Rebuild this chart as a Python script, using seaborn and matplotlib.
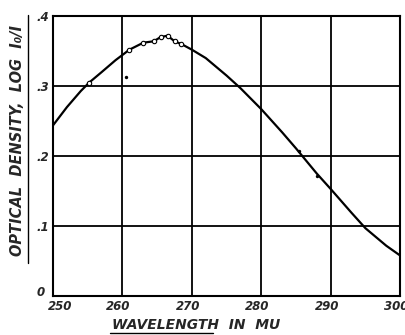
import matplotlib
matplotlib.use("Agg")
import matplotlib.pyplot as plt
import matplotlib.transforms as mtransforms
import seaborn as sns
import pandas as pd
from matplotlib.lines import Line2D

sns.set_style("white")
plt.rcParams['font.family'] = ['DejaVu Sans']

# curve
curve_x = [250, 252, 254, 255.2, 257, 259, 261, 263, 264.5, 265.5, 266.5, 267.5,
           268.5, 270, 272, 275, 277, 280, 283, 285, 288, 290, 293, 295, 298, 300]
curve_y = [0.244, 0.270, 0.293, 0.305, 0.320, 0.337, 0.352, 0.362, 0.364, 0.370,
           0.372, 0.364, 0.360, 0.352, 0.340, 0.315, 0.297, 0.267, 0.234, 0.211,
           0.175, 0.153, 0.119, 0.097, 0.072, 0.058]
# open circle data points
open_x = [255.2, 261, 263, 264.5, 265.5, 266.5, 267.5, 268.5]
open_y = [0.305, 0.352, 0.362, 0.364, 0.370, 0.372, 0.364, 0.360]
# filled dots
dot_x = [260.5, 285.5, 288]
dot_y = [0.313, 0.207, 0.172]

x_ticks = [250, 260, 270, 280, 290, 300]
x_labels = ["250", "260", "270", "280", "290", "300"]
y_ticks = [0, 0.1, 0.2, 0.3, 0.4]
y_labels = ["0", ".1", ".2", ".3", ".4"]

fig = plt.figure(figsize=(4.05, 3.35), dpi=100)
ax = fig.add_axes([0.131, 0.116, 0.857, 0.836])

curve = pd.DataFrame({"x": curve_x, "y": curve_y})
sns.lineplot(data=curve, x="x", y="y", ax=ax, color="black", lw=1.6, sort=False)
sns.scatterplot(x=open_x, y=open_y, ax=ax, s=10, facecolor="white",
                edgecolor="black", linewidth=0.8, zorder=5)
sns.scatterplot(x=dot_x, y=dot_y, ax=ax, s=6, color="black", linewidth=0, zorder=5)

ax.set_xlim(250, 300)
ax.set_ylim(0, 0.4)
ax.set_xticks(x_ticks)
ax.set_yticks(y_ticks)
tf = dict(fontsize=8.5, fontstyle="italic", fontweight="bold")
ax.set_xticklabels(x_labels, **tf)
ax.set_yticklabels(y_labels, **tf)
ax.tick_params(length=0, pad=3)
ax.grid(True, color="black", lw=1.3)
for s in ax.spines.values():
    s.set_color("black")
    s.set_linewidth(1.5)
ax.set_xlabel("")
ax.set_ylabel("")

# nudge the corner labels apart like the original
xl = ax.get_xticklabels()
xl[0].set_transform(xl[0].get_transform() + mtransforms.ScaledTranslation(7 / 100, 0, fig.dpi_scale_trans))
for lab in xl[1:]:
    lab.set_transform(lab.get_transform() + mtransforms.ScaledTranslation(-4 / 100, 0, fig.dpi_scale_trans))
yl = ax.get_yticklabels()
yl[0].set_transform(yl[0].get_transform() + mtransforms.ScaledTranslation(-4 / 100, 5 / 100, fig.dpi_scale_trans))

lf = dict(fontsize=10, fontstyle="italic", fontweight="bold")
fig.text(196 / 405, 1 - 325 / 335, "WAVELENGTH  IN  MU", ha="center", va="center", **lf)
fig.text(18 / 405, 1 - 141 / 335, "OPTICAL  DENSITY,  LOG  I\u2080/I", ha="center",
         va="center", rotation=90, fontsize=10.5, fontstyle="italic", fontweight="bold")
fig.add_artist(Line2D([110 / 405, 213 / 405], [1 - 333 / 335, 1 - 333 / 335],
                      color="black", lw=1.0))
fig.add_artist(Line2D([28 / 405, 28 / 405], [1 - 263 / 335, 1 - 15 / 335],
                      color="black", lw=1.0))

fig.savefig("out.png", dpi=100)
